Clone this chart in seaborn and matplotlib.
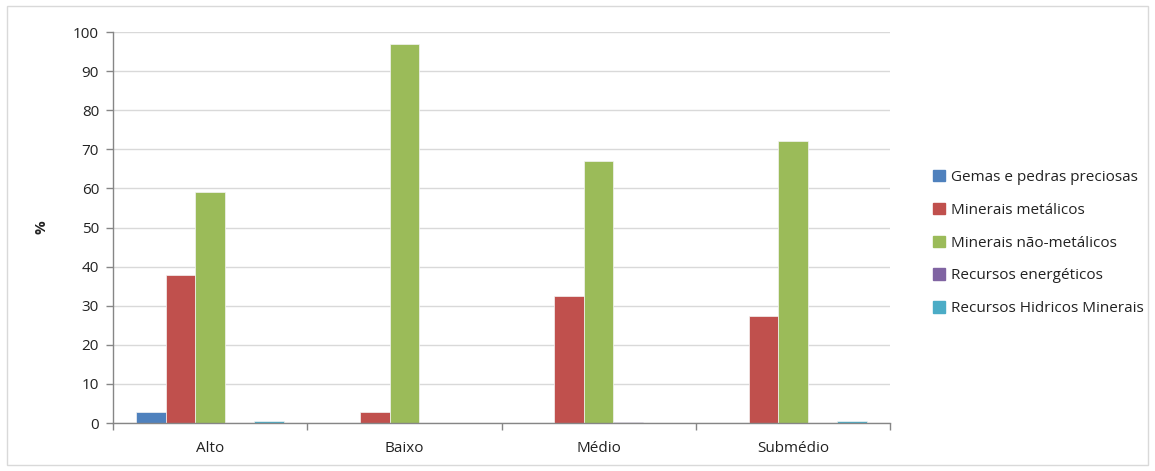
import matplotlib
matplotlib.use("Agg")
import matplotlib.pyplot as plt
import matplotlib.patches as mpatches
import seaborn as sns
import pandas as pd

# Regions of the basin and share (%) of each mineral resource group
regioes = ["Alto", "Baixo", "Médio", "Submédio"]
grupos = ["Gemas e pedras preciosas", "Minerais metálicos", "Minerais não-metálicos",
          "Recursos energéticos", "Recursos Hidricos Minerais"]
gemas = [2.8, 0.0, 0.0, 0.0]
metalicos = [37.9, 2.7, 32.5, 27.4]
nao_metalicos = [59.0, 97.0, 67.1, 72.1]
energeticos = [0.0, 0.0, 0.3, 0.0]
hidricos = [0.4, 0.1, 0.0, 0.4]
cores = ["#4F81BD", "#C0504D", "#9BBB59", "#8064A2", "#4BACC6"]
y_ticks = list(range(0, 101, 10))

series = [gemas, metalicos, nao_metalicos, energeticos, hidricos]
df = pd.DataFrame({
    "regiao": [r for s in series for r in regioes],
    "grupo": [g for g, s in zip(grupos, series) for _ in regioes],
    "valor": [v for s in series for v in s],
})

sns.set_theme(style="white")
plt.rcParams["font.family"] = ["Open Sans", "DejaVu Sans"]

fig = plt.figure(figsize=(11.55, 4.71), dpi=100)
ax = fig.add_axes([0.0978, 0.1019, 0.6728, 0.830])

sns.barplot(data=df, x="regiao", y="valor", hue="grupo", order=regioes,
            hue_order=grupos, palette=cores, width=0.76, saturation=1,
            errorbar=None, ax=ax, linewidth=0.5, edgecolor="#f4f4f4")

ax.set_ylim(0, 100)
ax.set_xlim(-0.5, len(regioes) - 0.5)
ax.set_yticks(y_ticks)
ax.set_yticklabels([str(t) for t in y_ticks], fontsize=11, color="#222222")
ax.yaxis.grid(True, color="#D9D9D9", linewidth=1)
ax.set_axisbelow(True)
ax.set_xlabel("")
ax.set_ylabel("%", fontsize=11, fontweight="bold", color="#222222", labelpad=18)
ax.set_xticks(range(len(regioes)))
ax.set_xticklabels(regioes, fontsize=11, color="#222222")
ax.tick_params(axis="x", length=0, pad=13)
ax.set_xticks([i - 0.5 for i in range(len(regioes) + 1)], minor=True)
ax.tick_params(axis="x", which="minor", length=5, color="#868686", width=1, direction="out", bottom=True)
ax.tick_params(axis="y", length=5, color="#868686", width=1, direction="out", left=True, pad=5)
for side in ["top", "right"]:
    ax.spines[side].set_visible(False)
for side in ["left", "bottom"]:
    ax.spines[side].set_color("#868686")
    ax.spines[side].set_linewidth(1)

ax.get_legend().remove()
handles = [mpatches.Patch(color=c, label=g) for c, g in zip(cores, grupos)]
fig.legend(handles=handles, loc="center left", bbox_to_anchor=(0.796, 0.484),
           frameon=False, fontsize=11, handlelength=0.75, handleheight=0.75,
           handletextpad=0.4, labelspacing=1.17, labelcolor="#222222")

fig.patches.append(mpatches.Rectangle((0.006, 0.013), 0.988, 0.974, transform=fig.transFigure,
                                      fill=False, edgecolor="#D9D9D9", linewidth=1))

fig.savefig("out.png", dpi=100, facecolor="white")
